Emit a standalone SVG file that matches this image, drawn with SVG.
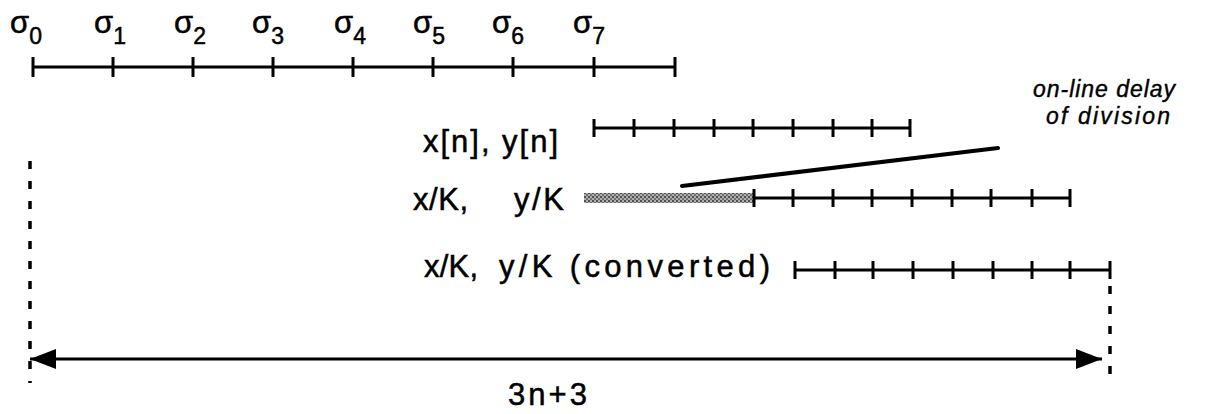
<svg xmlns="http://www.w3.org/2000/svg" width="1205" height="414" viewBox="0 0 1205 414">
<style>
.ln{stroke:#000;stroke-width:3;fill:none}
.tk{stroke:#000;stroke-width:3}
.dash{stroke:#000;stroke-width:3.5;stroke-dasharray:8 12;fill:none}
.t{font-family:"Liberation Sans",Arial,sans-serif;font-size:31px;fill:#000;stroke:#000;stroke-width:0.5}
.s{font-family:"Liberation Sans",Arial,sans-serif;font-size:31px;fill:#000;stroke:#000;stroke-width:0.5}
.sub{font-size:23px}
.it{font-family:"Liberation Sans",Arial,sans-serif;font-size:23px;font-style:italic;fill:#000;stroke:#000;stroke-width:0.4}
</style>
<defs>
<pattern id="hatch" width="4" height="4" patternUnits="userSpaceOnUse">
<rect width="4" height="4" fill="#b0b0b0"/>
<rect width="2" height="2" fill="#505050"/>
<rect x="2" y="2" width="2" height="2" fill="#707070"/>
</pattern>
<marker id="ah" viewBox="0 0 26 20" refX="26" refY="10" markerWidth="26" markerHeight="20" markerUnits="userSpaceOnUse" orient="auto-start-reverse">
<path d="M0,0 L26,10 L0,20 Z" fill="#000"/>
</marker>
</defs>

<g id="sigma-scale">
<line class="ln" x1="33" y1="67" x2="675" y2="67"/>
<path class="tk" d="M33,57V77M113,57V77M193,57V77M273,57V77M353,57V77M433,57V77M513,57V77M594,57V77M675,57V77"/>
<text class="s" x="10" y="33">σ<tspan class="sub" dy="11">0</tspan></text>
<text class="s" x="94" y="33">σ<tspan class="sub" dy="11">1</tspan></text>
<text class="s" x="174" y="33">σ<tspan class="sub" dy="11">2</tspan></text>
<text class="s" x="252" y="33">σ<tspan class="sub" dy="11">3</tspan></text>
<text class="s" x="334" y="33">σ<tspan class="sub" dy="11">4</tspan></text>
<text class="s" x="413" y="33">σ<tspan class="sub" dy="11">5</tspan></text>
<text class="s" x="492" y="33">σ<tspan class="sub" dy="11">6</tspan></text>
<text class="s" x="573" y="33">σ<tspan class="sub" dy="11">7</tspan></text>
</g>

<g id="row-xy">
<text class="t" x="423" y="152" textLength="135" lengthAdjust="spacing">x[n],  y[n]</text>
<line class="ln" x1="594" y1="128" x2="910" y2="128"/>
<path class="tk" d="M594,119V137M634,119V137M674,119V137M714,119V137M753,119V137M793,119V137M833,119V137M872,119V137M910,119V137"/>
</g>

<g id="row-div">
<text class="t" x="413" y="210" textLength="55" lengthAdjust="spacing">x/K,</text>
<text class="t" x="514" y="210" textLength="50" lengthAdjust="spacing">y/K</text>
<rect x="584" y="193" width="170" height="10" fill="url(#hatch)"/>
<line class="ln" x1="754" y1="198" x2="1070" y2="198"/>
<path class="tk" d="M754,189V207M793,189V207M833,189V207M872,189V207M912,189V207M952,189V207M991,189V207M1032,189V207M1070,189V207"/>
</g>

<g id="delay-note">
<text class="it" x="1033" y="97" textLength="142" lengthAdjust="spacing">on-line delay</text>
<text class="it" x="1046" y="124" textLength="124" lengthAdjust="spacing">of division</text>
</g>

<g id="row-conv">
<text class="t" x="424" y="277" textLength="54" lengthAdjust="spacing">x/K,</text>
<text class="t" x="499" y="277" textLength="271" lengthAdjust="spacing">y/K (converted)</text>
<line class="ln" x1="795" y1="270" x2="1110" y2="270"/>
<path class="tk" d="M795,261V279M835,261V279M873,261V279M913,261V279M953,261V279M993,261V279M1032,261V279M1070,261V279M1110,261V279"/>
</g>

<g id="span">
<text class="t" x="508" y="405" textLength="79" lengthAdjust="spacing">3n+3</text>
</g>

<g id="connectors">
<line x1="682" y1="186" x2="998" y2="148" stroke="#000" stroke-width="4" stroke-linecap="round"/>
<line class="dash" x1="30" y1="161" x2="30" y2="383"/>
<line class="dash" x1="1110" y1="286" x2="1110" y2="380"/>
<line class="ln" x1="30" y1="359" x2="1102" y2="359" marker-start="url(#ah)" marker-end="url(#ah)"/>
</g>
</svg>
